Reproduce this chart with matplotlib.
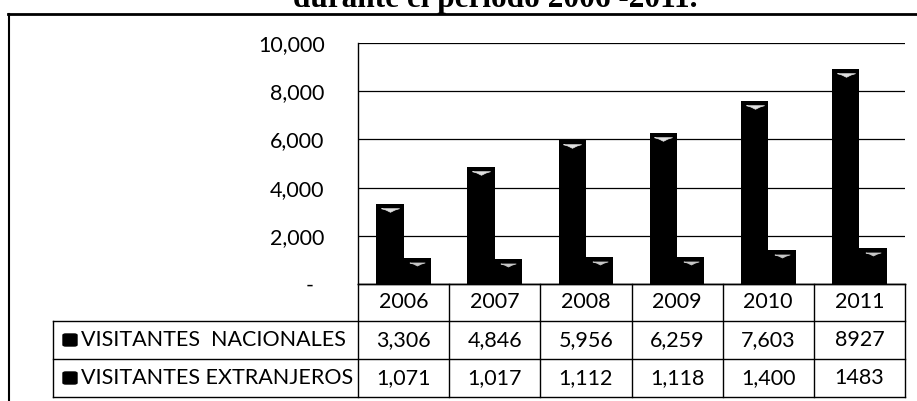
import matplotlib
matplotlib.use("Agg")
import matplotlib.pyplot as plt
import matplotlib.transforms as mtransforms
from matplotlib.lines import Line2D
from matplotlib.patches import FancyBboxPatch

# ---- data ----
years = ["2006", "2007", "2008", "2009", "2010", "2011"]
nacionales = [3306, 4846, 5956, 6259, 7603, 8927]
extranjeros = [1071, 1017, 1112, 1118, 1400, 1483]
nac_labels = ["3,306", "4,846", "5,956", "6,259", "7,603", "8927"]
ext_labels = ["1,071", "1,017", "1,112", "1,118", "1,400", "1483"]
series_names = ["VISITANTES  NACIONALES", "VISITANTES EXTRANJEROS"]
yticks = [0, 2000, 4000, 6000, 8000, 10000]
title = "durante el período 2006 -2011."

W, H = 917, 401
FONT = "Lato"
FS = 15.5

fig = plt.figure(figsize=(W / 100, H / 100), dpi=100)
fig.patch.set_facecolor("white")

def fx(px):
    return px / W

def fy(py):
    return 1 - py / H

ax_l, ax_r, ax_t, ax_b = 358, 905, 43, 284
ax = fig.add_axes([fx(ax_l), fy(ax_b), fx(ax_r - ax_l), (ax_b - ax_t) / H])

x = list(range(len(years)))
bw = 0.3
ax.bar([i - bw / 2 for i in x], nacionales, width=bw, color="black", zorder=3)
ax.bar([i + bw / 2 for i in x], extranjeros, width=bw, color="black", zorder=3)
# small light highlight just below the top of each bar (cylinder effect)
hl = [(-1, 0.2), (-0.5, 0.05), (0, -0.2), (0.5, 0.05), (1, 0.2), (-1, 0.2)]
off = mtransforms.ScaledTranslation(0, -6 / 100, fig.dpi_scale_trans)
ax.plot([i - bw / 2 for i in x], nacionales, ls="none", marker=hl, ms=13,
        mfc="#e0e0e0", mec="#e0e0e0", mew=0.5, transform=ax.transData + off, zorder=4)
ax.plot([i + bw / 2 for i in x], extranjeros, ls="none", marker=hl, ms=11,
        mfc="#c8c8c8", mec="#c8c8c8", mew=0.5, transform=ax.transData + off, zorder=4)

ax.set_xlim(-0.5, len(years) - 0.5)
ax.set_ylim(0, 10000)
ax.set_yticks(yticks)
ax.set_yticklabels(["-  " if v == 0 else f"{v:,}" for v in yticks],
                   fontfamily=FONT, fontsize=FS)
ax.tick_params(axis="y", length=0, pad=24)
ax.set_xticks([])
ax.grid(axis="y", color="black", lw=0.9, zorder=1)
for s in ["top", "right"]:
    ax.spines[s].set_visible(False)
ax.spines["left"].set_linewidth(1.0)
ax.spines["bottom"].set_linewidth(1.0)

# ---- data table under the chart ----
blend = mtransforms.blended_transform_factory(ax.transData, fig.transFigure)
row_lines = [284, 321, 359, 397]
tbl_left = 53
lw = 1.0
fig.add_artist(Line2D([fx(ax_l), fx(ax_r)], [fy(row_lines[0])] * 2, color="black", lw=lw))
for py in row_lines[1:]:
    fig.add_artist(Line2D([fx(tbl_left), fx(ax_r)], [fy(py)] * 2, color="black", lw=lw))
for k in range(len(years) + 1):
    xb = k - 0.5
    fig.add_artist(Line2D([xb, xb], [fy(row_lines[0]), fy(row_lines[-1])],
                          color="black", lw=lw, transform=blend))
fig.add_artist(Line2D([fx(tbl_left)] * 2, [fy(row_lines[1]), fy(row_lines[-1])],
                      color="black", lw=lw))

def cy(r):
    return fy((row_lines[r] + row_lines[r + 1]) / 2)

for i, yr in enumerate(years):
    fig.text(i, cy(0), yr, transform=blend, ha="center", va="center",
             fontfamily=FONT, fontsize=FS)
    fig.text(i, cy(1), nac_labels[i], transform=blend, ha="center", va="center",
             fontfamily=FONT, fontsize=FS)
    fig.text(i, cy(2), ext_labels[i], transform=blend, ha="center", va="center",
             fontfamily=FONT, fontsize=FS)

for r, name in enumerate(series_names, start=1):
    ycen = (row_lines[r] + row_lines[r + 1]) / 2
    fig.add_artist(FancyBboxPatch((fx(63), fy(ycen + 6)), fx(14), 12 / H,
                                  boxstyle="round,pad=0,rounding_size=0.003",
                                  fc="black", ec="black", transform=fig.transFigure))
    fig.text(fx(81), fy(ycen), name, ha="left", va="center",
             fontfamily=FONT, fontsize=FS)

# ---- outer frame and cropped title ----
fig.add_artist(Line2D([fx(8), 1], [fy(14)] * 2, color="black", lw=2))
fig.add_artist(Line2D([fx(9)] * 2, [fy(14), 0], color="black", lw=1.5))
fig.text(fx(495), fy(7), title, ha="center", va="baseline",
         fontfamily="Liberation Serif", fontweight="bold", fontsize=22.5)

fig.savefig("out.png", dpi=100)
